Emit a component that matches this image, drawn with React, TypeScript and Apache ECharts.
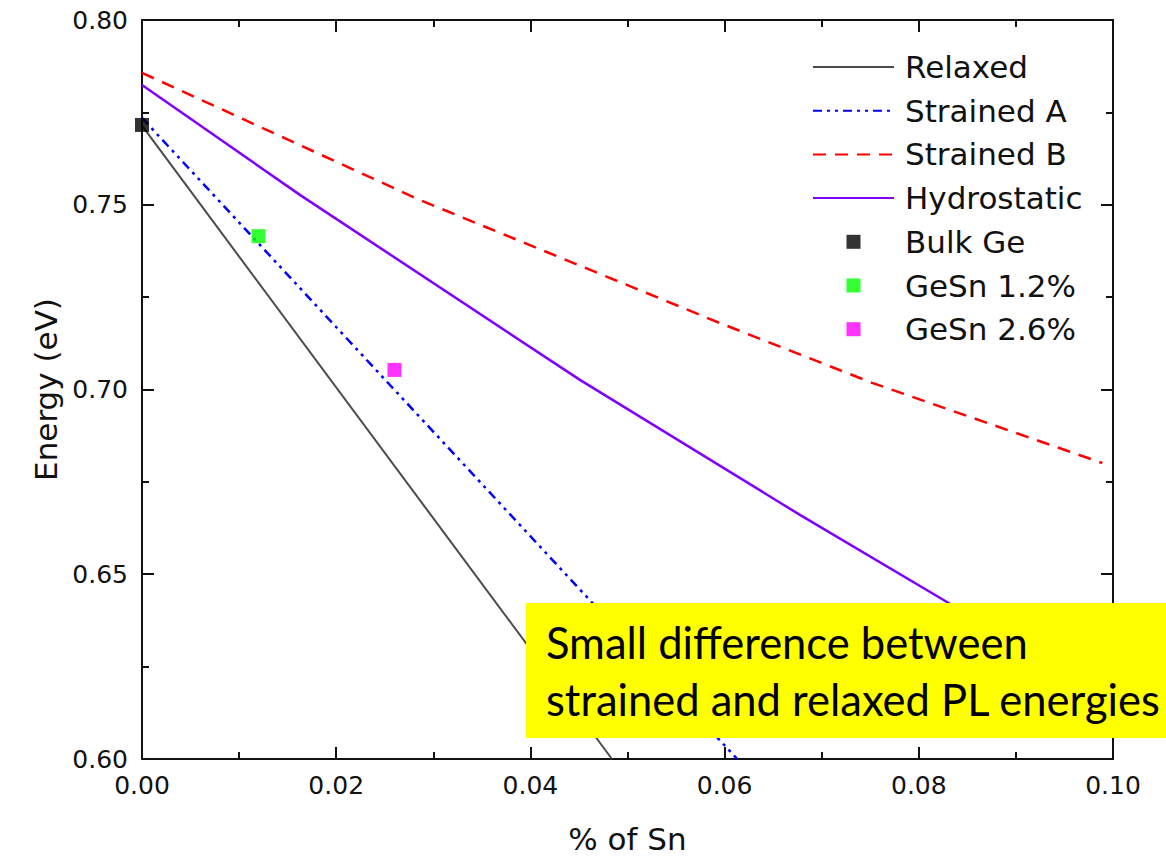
import React, { useEffect, useRef } from "react";
import * as echarts from "echarts";

// ---- data ----
const xTickLabels = ["0.00", "0.02", "0.04", "0.06", "0.08", "0.10"];
const yTickLabels = ["0.60", "0.65", "0.70", "0.75", "0.80"];

const relaxedX = [0, 0.0484];
const relaxedY = [0.7714, 0.6];

const strainedAX = [0, 0.0613];
const strainedAY = [0.7735, 0.6];

const strainedBX = [0, 0.0286, 0.0595, 0.0752, 0.0989];
const strainedBY = [0.7857, 0.7513, 0.718, 0.7018, 0.6801];

const hydroX = [0, 0.0163, 0.0451, 0.0678, 0.0829, 0.099];
const hydroY = [0.7824, 0.7526, 0.7026, 0.666, 0.6425, 0.618];

const bulkGe = [[0, 0.7716]];
const geSn12 = [[0.012, 0.7415]];
const geSn26 = [[0.026, 0.7053]];

const noteLines = ["Small difference between", "strained and relaxed PL energies"];

const zip = (xs: number[], ys: number[]) => xs.map((x, i) => [x, ys[i]]);

const FONT = "DejaVu Sans";
const SQUARE = "path://M0,0h10v10h-10z";

export default function App() {
  const ref = useRef<HTMLDivElement>(null);

  useEffect(() => {
    if (!ref.current) return;
    const chart = echarts.init(ref.current, null, { renderer: "svg" });

    const axisLine = { show: true, onZero: false, lineStyle: { color: "#111", width: 2 } };
    const majorTick = { show: true, inside: true, length: 12, lineStyle: { color: "#111", width: 2 } };
    const minorTick = { show: true, inside: true, length: 7, lineStyle: { color: "#111", width: 2 } };

    const xBase = { type: "value", min: 0, max: 0.1, offset: 0, splitLine: { show: false } };
    const yBase = { type: "value", min: 0.6, max: 0.8, offset: 0, splitLine: { show: false } };

    const lineSeries = (name: string, data: number[][], color: string, width: number, type: any) => ({
      name,
      type: "line",
      data,
      symbol: "none",
      clip: true,
      lineStyle: { color, width, type },
      itemStyle: { color },
      z: 3,
    });

    const scatterSeries = (name: string, data: number[][], color: string) => ({
      name,
      type: "scatter",
      data,
      symbol: "rect",
      symbolSize: 14,
      itemStyle: { color },
      z: 4,
    });

    const option: any = {
      animation: false,
      backgroundColor: "#fff",
      grid: { left: 142, right: 53, top: 20, bottom: 97, containLabel: false, outerBoundsMode: "none" },
      xAxis: [
        {
          ...xBase,
          interval: 0.02,
          position: "bottom",
          name: "% of Sn",
          nameLocation: "middle",
          nameGap: 64,
          nameTextStyle: { fontFamily: FONT, fontSize: 31, color: "#111" },
          axisLine,
          axisTick: majorTick,
          axisLabel: {
            fontFamily: FONT,
            fontSize: 25,
            color: "#111",
            margin: 14,
            formatter: (v: number) => xTickLabels[Math.round(v / 0.02)] ?? v.toFixed(2),
          },
        },
        { ...xBase, interval: 0.01, position: "bottom", axisLine: { show: false, onZero: false }, axisTick: minorTick, axisLabel: { show: false } },
        { ...xBase, interval: 0.02, position: "top", axisLine, axisTick: majorTick, axisLabel: { show: false } },
        { ...xBase, interval: 0.01, position: "top", axisLine: { show: false, onZero: false }, axisTick: minorTick, axisLabel: { show: false } },
      ],
      yAxis: [
        {
          ...yBase,
          interval: 0.05,
          position: "left",
          name: "Energy (eV)",
          nameLocation: "middle",
          nameGap: 76,
          nameTextStyle: { fontFamily: FONT, fontSize: 31, color: "#111" },
          axisLine,
          axisTick: majorTick,
          axisLabel: {
            fontFamily: FONT,
            fontSize: 25,
            color: "#111",
            margin: 14,
            formatter: (v: number) => yTickLabels[Math.round((v - 0.6) / 0.05)] ?? v.toFixed(2),
          },
        },
        { ...yBase, interval: 0.025, position: "left", axisLine: { show: false, onZero: false }, axisTick: minorTick, axisLabel: { show: false } },
        { ...yBase, interval: 0.05, position: "right", axisLine, axisTick: majorTick, axisLabel: { show: false } },
        { ...yBase, interval: 0.025, position: "right", axisLine: { show: false, onZero: false }, axisTick: minorTick, axisLabel: { show: false } },
      ],
      legend: {
        orient: "vertical",
        left: 812,
        top: 51,
        itemWidth: 81,
        itemHeight: 14,
        itemGap: 11.7,
        padding: 0,
        symbolKeepAspect: true,
        textStyle: { fontFamily: FONT, fontSize: 31, color: "#111", lineHeight: 32, padding: [0, 0, 0, 6] },
        data: [
          { name: "Relaxed", itemStyle: { opacity: 0 } },
          { name: "Strained A", itemStyle: { opacity: 0 } },
          { name: "Strained B", itemStyle: { opacity: 0 } },
          { name: "Hydrostatic", itemStyle: { opacity: 0 } },
          { name: "Bulk Ge", icon: SQUARE },
          { name: "GeSn 1.2%", icon: SQUARE },
          { name: "GeSn 2.6%", icon: SQUARE },
        ],
      },
      series: [
        lineSeries("Relaxed", zip(relaxedX, relaxedY), "#4a4a4a", 2, "solid"),
        lineSeries("Strained A", zip(strainedAX, strainedAY), "#0000ff", 2.5, [9, 5, 3, 5, 3, 5]),
        lineSeries("Strained B", zip(strainedBX, strainedBY), "#ff0000", 2.5, [13, 9]),
        lineSeries("Hydrostatic", zip(hydroX, hydroY), "#8000ff", 2.5, "solid"),
        scatterSeries("Bulk Ge", bulkGe, "#000000"),
        scatterSeries("GeSn 1.2%", geSn12, "#00ff00"),
        scatterSeries("GeSn 2.6%", geSn26, "#ff00ff"),
      ],
      graphic: [
        {
          type: "group",
          z: 100,
          children: [
            {
              type: "rect",
              shape: { x: 526, y: 603, width: 700, height: 135 },
              style: { fill: "#ffff00" },
              z: 100,
            },
            {
              type: "text",
              x: 546,
              y: 642,
              z: 101,
              style: { text: noteLines[0], fontFamily: "Lato", fontSize: 43.5, fill: "#000", verticalAlign: "middle", align: "left" },
            },
            {
              type: "text",
              x: 546,
              y: 699,
              z: 101,
              style: { text: noteLines[1], fontFamily: "Lato", fontSize: 43.5, fill: "#000", verticalAlign: "middle", align: "left" },
            },
          ],
        },
      ],
    };

    chart.setOption(option);
    return () => chart.dispose();
  }, []);

  return (
    <div ref={ref} style={{ position: "fixed", left: 0, top: 0, width: 1166, height: 856, background: "#fff" }} />
  );
}
